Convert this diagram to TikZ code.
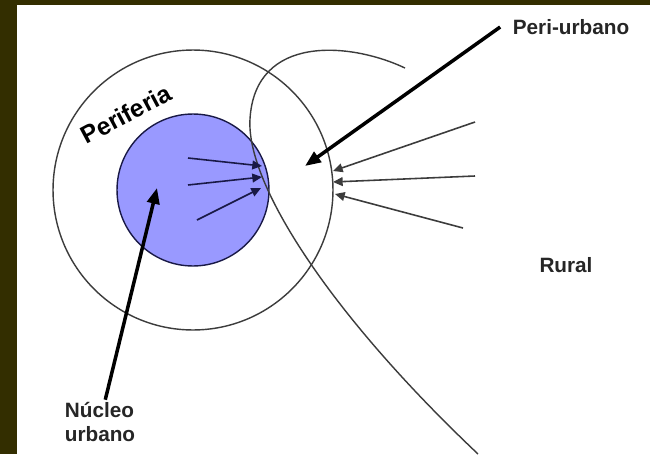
\documentclass[tikz,border=0pt]{standalone}
\usepackage{fontspec}
\setmainfont{Liberation Sans}
\usetikzlibrary{arrows.meta, positioning}
\definecolor{marco}{RGB}{51,46,0}
\definecolor{nucleo}{RGB}{153,153,255}
\definecolor{trazo}{RGB}{60,60,60}
\definecolor{azuloscuro}{RGB}{25,25,70}
\tikzset{
  zona/.style={circle, draw=trazo, line width=0.8pt, inner sep=0pt, outer sep=0pt},
  frontera/.style={trazo, line width=0.8pt},
  rotulo/.style={font=\fontsize{11.8}{14.2}\selectfont\bfseries, text=black!85,
                 inner sep=1pt, align=left},
  flechita/.style={-{Triangle[length=5.5pt, width=5pt]}, line width=0.9pt},
  puntero/.style={-{Triangle[length=9pt, width=7pt]}, line width=2pt}
}

\begin{document}
\begin{tikzpicture}[x=0.02cm, y=0.02cm]
    % fondo y marco
    \fill[marco] (0,0) rectangle (650,454);
    \fill[white] (17,0) rectangle (650,449);
    % zonas
    \node[zona, minimum size=5.6cm] (periferia) at (193,264) {};
    \node[zona, fill=nucleo, draw=azuloscuro, minimum size=3.04cm] (centro) at (193,264) {};
    % frontera peri-urbana
    \coordinate (f-ini) at (405,386);
    \coordinate (f-izq) at (250,335);
    \coordinate (f-fin) at (478,0);
    \draw[frontera] (f-ini) .. controls (350,412) and (255,420) .. (f-izq)
                            .. controls (246,270) and (330,140) .. (f-fin);
    % rotulos
    \node[rotulo] (peri)  at (571,427) {Peri-urbano};
    \node[rotulo] (rural) at (566,189) {Rural};
    \node[rotulo] (nuc)   at (100,32)  {Núcleo\\urbano};
    \node[rotulo, font=\fontsize{14}{16}\selectfont\bfseries, text=black, rotate=28]
      (perif) at (126,340) {Periferia};
    % extremos de las flechas
    \coordinate (a1) at (188,296); \coordinate (a1p) at (262,288);
    \coordinate (a2) at (188,269); \coordinate (a2p) at (262,277);
    \coordinate (a3) at (197,234); \coordinate (a3p) at (261,266);
    \coordinate (b1) at (475,332); \coordinate (b1p) at (333,283);
    \coordinate (b2) at (475,278); \coordinate (b2p) at (333,272);
    \coordinate (b3) at (463,226); \coordinate (b3p) at (335,260);
    \coordinate (pu-punta)  at (305,288);
    \coordinate (nuc-punta) at (157,266);
    % flujos
    \draw[flechita, azuloscuro] (a1) -- (a1p);
    \draw[flechita, azuloscuro] (a2) -- (a2p);
    \draw[flechita, azuloscuro] (a3) -- (a3p);
    \draw[flechita, trazo] (b1) -- (b1p);
    \draw[flechita, trazo] (b2) -- (b2p);
    \draw[flechita, trazo] (b3) -- (b3p);
    \draw[puntero] ([xshift=-6pt]peri.west) -- (pu-punta);
    \draw[puntero] ([xshift=3pt]nuc.north) -- (nuc-punta);
\end{tikzpicture}
\end{document}
